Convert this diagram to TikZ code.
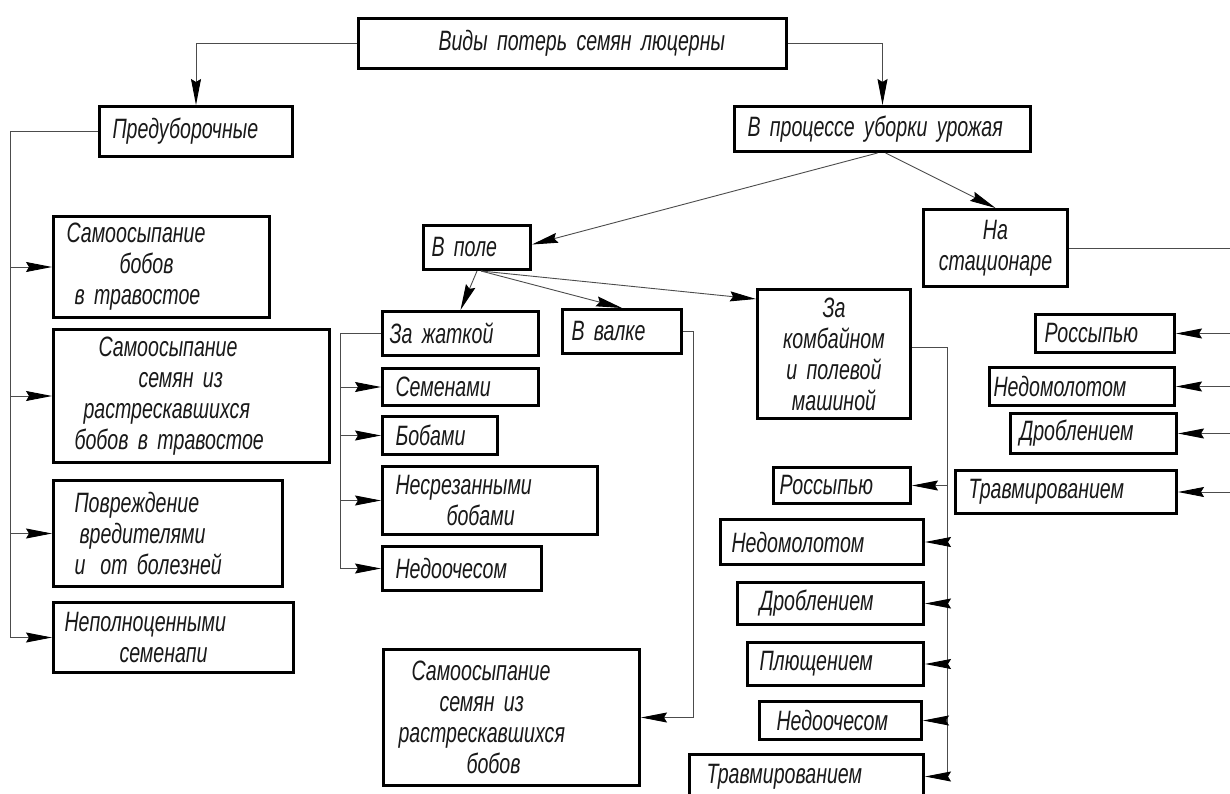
\documentclass[tikz,border=0pt]{standalone}
\usepackage{fontspec}
\usepackage{tikz}
\usetikzlibrary{arrows.meta,positioning}
\newfontfamily\gost[FakeStretch=0.70]{Liberation Sans}
\newcommand{\lpad}[1]{\hspace*{#1pt}}

\begin{document}
\begin{tikzpicture}[
    x=1pt, y=-1pt,
    box/.style 2 args={rectangle, draw, line width=3pt, anchor=north west, inner xsep=0pt, inner ysep=0pt, minimum width=#1pt, text width=#1pt, minimum height=#2pt, align=left, text=black!90, font=\gost\itshape\fontsize{28}{31}\selectfont},
    line/.style={line width=0.9pt, black!70},
    arr/.style={line, -{Stealth[length=26pt, width=10pt, inset=3pt, black]}}
]
\useasboundingbox (0,0) rectangle (1230,794);
\fill[white] (0,0) rectangle (1230,794);

% bus lines
\coordinate (lbus) at (10,0);
\coordinate (zbus) at (340,0);
\coordinate (vbus) at (693,0);
\coordinate (kbus) at (947,0);
\coordinate (rbus) at (1232,0);

% top levels
\node[box={428}{50}] (vid) at (357,17) {\lpad{80}Виды потерь семян люцерны};
\node[box={193}{50}] (pred) at (98,105) {\lpad{13}Предуборочные};
\node[box={296}{45}] (proc) at (733,105) {\lpad{13}В процессе уборки урожая};
\node[box={144}{77}, align=center] (stac) at (922,208) {На\\стационаре};
\node[box={107}{44}] (pole) at (422,224) {\lpad{8}В поле};

% before harvest
\node[box={216}{101}] (sam1) at (52,215) {\lpad{13}Самоосыпание\\\lpad{66}бобов\\\lpad{21}в травостое};
\node[box={276}{133}] (sam2) at (52,328) {\lpad{45}Самоосыпание\\\lpad{85}семян из\\\lpad{30}растрескавшихся\\\lpad{21}бобов в травостое};
\node[box={229}{106}] (povr) at (52,479) {\lpad{21}Повреждение\\\lpad{26}вредителями\\\lpad{21}и\hspace{15pt}от болезней};
\node[box={240}{70}] (nep) at (52,601) {\lpad{11}Неполноценными\\\lpad{66}семенапи};

% in the field
\node[box={156}{44}] (zhat) at (381,310) {\lpad{7}За жаткой};
\node[box={119}{44}] (valk) at (561,308) {\lpad{9}В валке};
\node[box={156}{37}] (sem) at (381,367) {\lpad{13}Семенами};
\node[box={115}{38}] (bob) at (381,415) {\lpad{13}Бобами};
\node[box={215}{68}] (nesr) at (381,465) {\lpad{13}Несрезанными\\\lpad{64}бобами};
\node[box={159}{44}] (nedo1) at (381,545) {\lpad{13}Недоочесом};
\node[box={256}{136}] (sam3) at (382,648) {\lpad{28}Самоосыпание\\\lpad{56}семян из\\\lpad{15}растрескавшихся\\\lpad{83}бобов};
\node[box={153}{129}, align=center] (komb) at (756,288) {За\\комбайном\\и полевой\\машиной};
\node[box={137}{36}] (ros1) at (772,466) {\lpad{6}Россыпью};
\node[box={203}{45}] (ned1) at (719,518) {\lpad{11}Недомолотом};
\node[box={186}{42}] (drob1) at (736,581) {\lpad{22}Дроблением};
\node[box={176}{43}] (plu) at (746,641) {\lpad{12}Плющением};
\node[box={162}{38}] (nedo2) at (758,700) {\lpad{17}Недоочесом};
\node[box={234}{44}] (trav1) at (688,753) {\lpad{17}Травмированием};

% stationary
\node[box={139}{38}] (ros2) at (1034,313) {\lpad{9}Россыпью};
\node[box={185}{38}] (ned2) at (988,366) {\lpad{4}Недомолотом};
\node[box={166}{40}] (drob2) at (1009,412) {\lpad{9}Дроблением};
\node[box={221}{43}] (trav2) at (954,469) {\lpad{13}Травмированием};

% connectors
\draw[arr] (vid.west) -| (pred.north);
\draw[arr] (vid.east) -| (proc.north);
\draw[arr] ([xshift=-5pt]proc.south) -- ([yshift=3pt]pole.east);
\draw[arr] ([xshift=3pt]proc.south) -- (stac.north);
\draw[line] (stac.east) -- (stac.east -| rbus);

\draw[line] (pred.west) -| (lbus |- nep.west);
\foreach \n in {sam1,sam2,povr,nep}
    \draw[arr] (lbus |- \n.west) -- (\n.west);

\draw[arr] (pole.south) -- (zhat.north);
\draw[arr] ([xshift=4pt]pole.south) -- (valk.north);
\draw[arr] ([xshift=4pt]pole.south) -- ([yshift=-11pt]komb.north west);

\draw[line] (zhat.west) -| (zbus |- nedo1.west);
\foreach \n in {sem,bob,nesr,nedo1}
    \draw[arr] (zbus |- \n.west) -- (\n.west);

\draw[arr] (valk.east) -| (vbus |- sam3.east) -- (sam3.east);

\draw[line] ([yshift=7pt]komb.east) -| (kbus |- trav1.east);
\foreach \n in {ros1,ned1,drob1,plu,nedo2,trav1}
    \draw[arr] (kbus |- \n.east) -- (\n.east);

\foreach \n in {ros2,ned2,drob2,trav2}
    \draw[arr] (rbus |- \n.east) -- (\n.east);
\end{tikzpicture}
\end{document}
